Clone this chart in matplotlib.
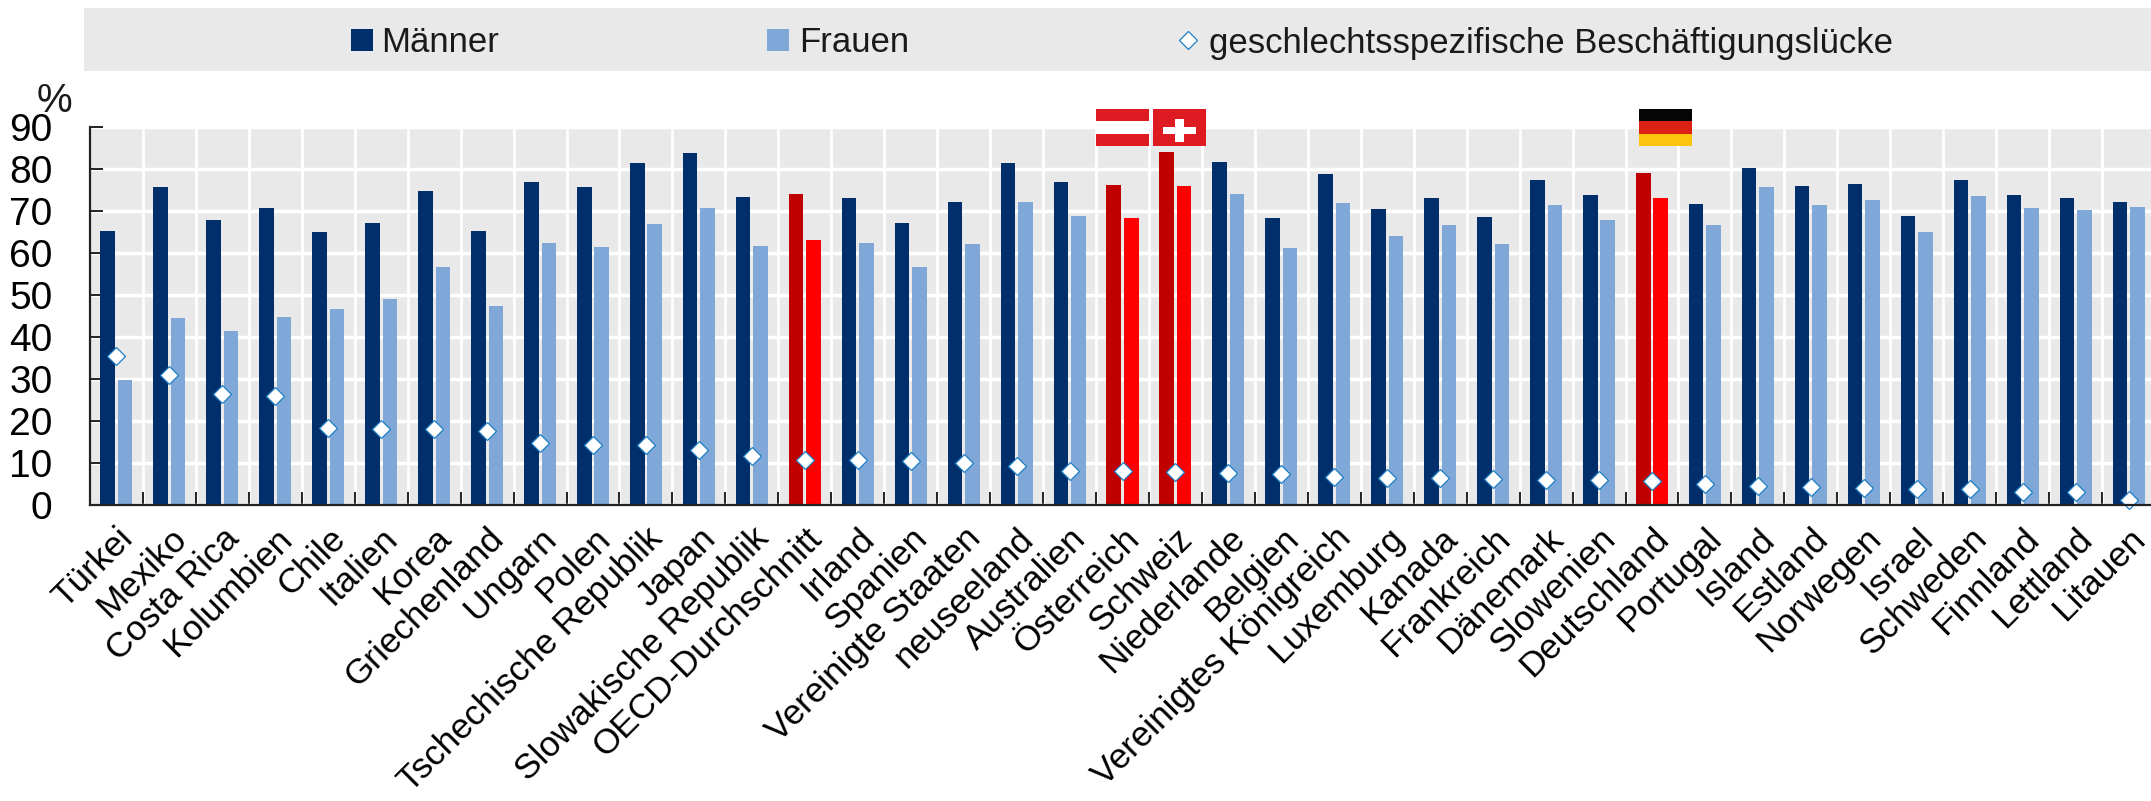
import matplotlib
matplotlib.use("Agg")
import matplotlib.pyplot as plt
from matplotlib.lines import Line2D
from matplotlib.patches import Rectangle

W, H = 2151, 801

countries = ["Türkei", "Mexiko", "Costa Rica", "Kolumbien", "Chile", "Italien", "Korea",
             "Griechenland", "Ungarn", "Polen", "Tschechische Republik", "Japan",
             "Slowakische Republik", "OECD-Durchschnitt", "Irland", "Spanien",
             "Vereinigte Staaten", "neuseeland", "Australien", "Österreich", "Schweiz",
             "Niederlande", "Belgien", "Vereinigtes Königreich", "Luxemburg", "Kanada",
             "Frankreich", "Dänemark", "Slowenien", "Deutschland", "Portugal", "Island",
             "Estland", "Norwegen", "Israel", "Schweden", "Finnland", "Lettland", "Litauen"]
men = [65.2, 75.6, 67.8, 70.7, 65.1, 67.2, 74.8, 65.2, 77.0, 75.8, 81.4, 83.8, 73.4, 74.0,
       73.2, 67.2, 72.2, 81.5, 76.8, 76.3, 84.0, 81.6, 68.4, 78.7, 70.4, 73.2, 68.5, 77.4,
       73.7, 79.0, 71.6, 80.2, 76.0, 76.5, 68.8, 77.3, 73.7, 73.2, 72.2]
women = [29.8, 44.6, 41.5, 44.8, 46.7, 49.0, 56.7, 47.5, 62.3, 61.5, 67.0, 70.6, 61.7, 63.0,
         62.5, 56.7, 62.2, 72.2, 68.7, 68.3, 75.9, 74.0, 61.2, 72.0, 64.0, 66.7, 62.2, 71.4,
         67.8, 73.2, 66.6, 75.6, 71.5, 72.6, 65.0, 73.6, 70.7, 70.2, 71.0]
gap = [35.4, 31.0, 26.4, 26.0, 18.4, 18.2, 18.0, 17.6, 14.7, 14.4, 14.2, 13.2, 11.6, 10.8,
       10.7, 10.5, 10.0, 9.2, 8.1, 8.0, 7.9, 7.6, 7.3, 6.6, 6.4, 6.4, 6.2, 5.9, 5.9, 5.8,
       5.0, 4.6, 4.4, 4.0, 3.8, 3.7, 3.0, 3.0, 1.2]
highlight = ["OECD-Durchschnitt", "Österreich", "Schweiz", "Deutschland"]
y_ticks = [0, 10, 20, 30, 40, 50, 60, 70, 80, 90]

NAVY = "#002F6C"
LIGHT = "#7FA8D9"
DARK_RED = "#C00000"
RED = "#FF0000"
PANEL = "#E9E9E9"
DIAMOND = "#1F7FC4"

plt.rcParams["font.family"] = ["Liberation Sans", "DejaVu Sans"]
plt.rcParams["text.color"] = "#1A1A1A"

fig = plt.figure(figsize=(W / 100, H / 100), dpi=100)


def fx(px):
    return px / W


def fy(px):
    # pixels counted from the top, like in the reference
    return 1 - px / H


ax = fig.add_axes([fx(90), fy(505), (2155 - 90) / W, (505 - 127) / H])
ax.set_facecolor(PANEL)

xs = list(range(len(countries)))
bar_w = 0.275
men_colors = [DARK_RED if c in highlight else NAVY for c in countries]
women_colors = [RED if c in highlight else LIGHT for c in countries]
ax.bar([x - 0.165 for x in xs], men, bar_w, color=men_colors, zorder=3)
ax.bar([x + 0.165 for x in xs], women, bar_w, color=women_colors, zorder=3)
ax.plot(xs, gap, ls="none", marker="D", ms=9.6, mfc="white", mec=DIAMOND, mew=0.9,
        zorder=4, clip_on=False)

ax.set_xlim(-0.5, len(countries) - 0.5)
ax.set_ylim(0, 90)
ax.set_yticks(y_ticks)
ax.set_xticks(xs)
ax.set_xticklabels(countries, rotation=45, ha="right", va="top", rotation_mode="anchor",
                   fontsize=25.3)
ax.set_xticks([x + 0.5 for x in xs[:-1]], minor=True)

# white grid, one cell per country
ax.grid(True, which="minor", axis="x", color="white", lw=2, zorder=1)
ax.grid(True, which="major", axis="y", color="white", lw=2.5, zorder=1)
ax.set_axisbelow(True)
ax.tick_params(axis="x", which="major", length=0, pad=12)
ax.tick_params(axis="x", which="minor", direction="in", length=9.5, width=1.4, color="#222222")
ax.tick_params(axis="y", direction="in", length=9.5, width=1.4, color="#222222", pad=27,
               labelsize=28)
for side in ["top", "right"]:
    ax.spines[side].set_visible(False)
for side in ["left", "bottom"]:
    ax.spines[side].set_linewidth(1.6)
    ax.spines[side].set_color("#222222")
    ax.spines[side].set_zorder(5)

fig.text(fx(54), fy(101), "%", fontsize=29, ha="center", va="center")


# flags sit above the bars of their country
def flag(center, stripes, offset=0.0):
    left = center - 0.5 + offset
    top = 94.3
    h = 8.8 / len(stripes)
    for k, col in enumerate(stripes):
        ax.add_patch(Rectangle((left, top - (k + 1) * h), 1.0, h, color=col, lw=0,
                               clip_on=False, zorder=6))


flag(countries.index("Österreich"), ["#DE1A22", "white", "#DE1A22"], 0.0)
flag(countries.index("Schweiz"), ["#DE1A22"], 0.08)
flag(countries.index("Deutschland"), ["#050505", "#DD2014", "#FCC40A"], 0.25)
sx = countries.index("Schweiz") + 0.08
ax.add_patch(Rectangle((sx - 0.31, 88.4), 0.62, 1.6, color="white", lw=0, clip_on=False, zorder=7))
ax.add_patch(Rectangle((sx - 0.09, 86.5), 0.18, 5.4, color="white", lw=0, clip_on=False, zorder=7))

# legend band
fig.add_artist(Rectangle((fx(84), fy(71)), fx(W - 84), (71 - 8) / H, transform=fig.transFigure,
                         color=PANEL, lw=0, zorder=0))
legend_labels = ["Männer", "Frauen", "geschlechtsspezifische Beschäftigungslücke"]
for x0, col in [(351, NAVY), (767, LIGHT)]:
    fig.add_artist(Rectangle((fx(x0), fy(51)), 22 / W, 22 / H, transform=fig.transFigure,
                             color=col, lw=0))
fig.add_artist(Line2D([fx(1188)], [fy(40)], transform=fig.transFigure, ls="none", marker="D",
                      ms=9.6, mfc="white", mec=DIAMOND, mew=0.9))
for x0, lab in zip([381, 799, 1209], legend_labels):
    fig.text(fx(x0), fy(43), lab, fontsize=25, ha="left", va="center")

fig.savefig("out.png", dpi=100)
